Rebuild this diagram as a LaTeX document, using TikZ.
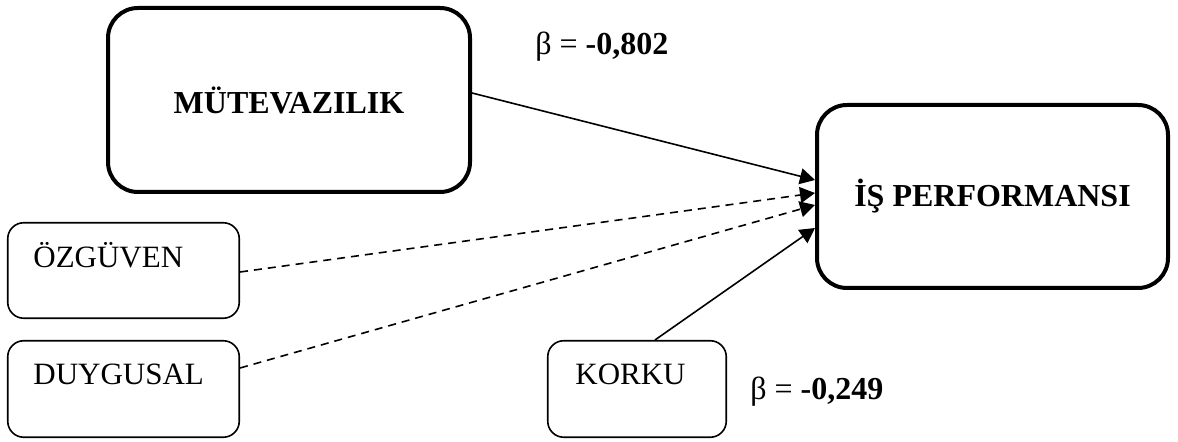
\documentclass[tikz,border=0pt]{standalone}
\usepackage{fontspec}
\setmainfont{Liberation Serif}
\usetikzlibrary{arrows.meta}
\begin{document}
\begin{tikzpicture}[x=0.5pt,y=-0.5pt,
  bigbox/.style={draw, line width=2pt, rounded corners=15pt, inner sep=0pt, font=\fontsize{16}{19}\selectfont\bfseries},
  smallbox/.style={draw, line width=0.8pt, rounded corners=8pt, inner sep=0pt},
  lbl/.style={inner sep=0pt, anchor=base west, font=\fontsize{15.5}{18}\selectfont},
  coef/.style={inner sep=0pt, anchor=base west, font=\fontsize{16}{19}\selectfont},
  arr/.style={line width=0.8pt, -{Triangle[length=7.5pt,width=8pt]}},
  darr/.style={arr, dash pattern=on 4pt off 3pt}]
\useasboundingbox (0,0) rectangle (1178,442);
\node[bigbox, minimum width=181pt, minimum height=92pt] (mut) at (289,100) {MÜTEVAZILIK};
\node[bigbox, minimum width=175.5pt, minimum height=91.5pt] (isp) at (992.5,196.5) {İŞ PERFORMANSI};
\node[smallbox, minimum width=115.75pt, minimum height=47.75pt] (ozg) at (123.5,270.5) {};
\node[smallbox, minimum width=115.75pt, minimum height=48.25pt] (duy) at (123.5,389) {};
\node[smallbox, minimum width=89.25pt, minimum height=48.25pt] (kor) at (637,389) {};
\node[lbl] (ozgt) at (33,268) {ÖZGÜVEN};
\node[lbl] (duyt) at (33,385) {DUYGUSAL};
\node[lbl] (kort) at (575,385) {KORKU};
\node[coef] (b1) at (535,55) {β = \textbf{-0,802}};
\node[coef] (b2) at (750,400) {β = \textbf{-0,249}};
\draw[arr] ([yshift=3.5pt]mut.east) -- ([yshift=8.25pt]isp.west);
\draw[darr] ([yshift=-0.75pt]ozg.east) -- ([yshift=1.75pt]isp.west);
\draw[darr] ([yshift=10.5pt]duy.east) -- ([yshift=-4.25pt]isp.west);
\draw[arr] ([xshift=9pt]kor.north) -- ([yshift=-15.75pt]isp.west);
\end{tikzpicture}
\end{document}
